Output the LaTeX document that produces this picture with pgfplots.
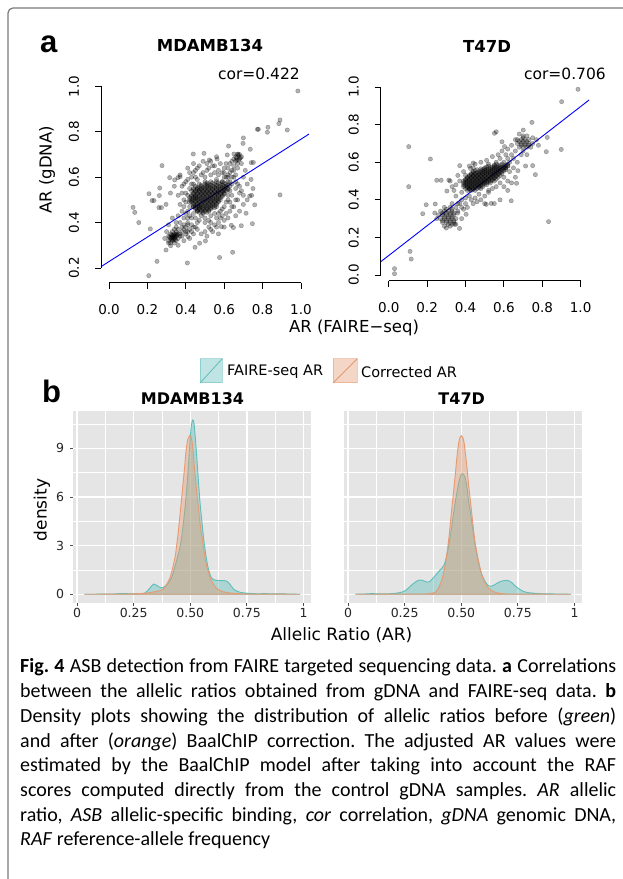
\documentclass[border=0pt]{standalone}
\usepackage{fontspec}
\setmainfont{DejaVu Sans}
\newfontfamily\capfont{Carlito}
\newfontfamily\panfont{Liberation Sans}
\usepackage{pgfplots}
\pgfplotsset{compat=1.18}

\definecolor{tealc}{HTML}{5FBDBA}
\definecolor{orngc}{HTML}{E59A72}
\definecolor{panelbg}{HTML}{E5E5E5}
\definecolor{framegray}{HTML}{7A7A7A}

\pgfplotsset{
  rsc/.style={scale only axis, width=208pt, xmin=-0.042, xmax=1.042, clip=false,
    axis line style={draw=none}, tick align=outside, xtick pos=bottom, ytick pos=left,
    major tick length=6pt, tick style={black, line width=0.8pt},
    xtick={0,0.2,0.4,0.6,0.8,1.0},
    xticklabel style={font=\fontsize{13.5}{14}\selectfont, anchor=center, yshift=-21pt},
    yticklabel style={font=\fontsize{13.5}{14}\selectfont, xshift=-21pt, rotate=90, anchor=center},
    /pgf/number format/.cd, fixed, fixed zerofill, precision=1, assume math mode=true},
  pts/.style={only marks, mark=*, mark size=2.2pt,
    mark options={draw=black, fill=black, opacity=0.3, line width=0.4pt}},
  dens/.style={scale only axis, width=237.5pt, height=192pt, xmin=-0.018, xmax=1.031,
    ymin=-0.54, ymax=11.31, axis background/.style={fill=panelbg},
    axis line style={draw=none}, grid=both,
    major grid style={white, line width=1.4pt}, minor grid style={white, line width=0.6pt},
    xtick={0,0.25,0.5,0.75,1}, xticklabels={0,0.25,0.50,0.75,1},
    minor xtick={0.125,0.375,0.625,0.875}, ytick={0,3,6,9}, minor ytick={1.5,4.5,7.5,10.5},
    tick align=outside, major tick length=3pt, minor tick length=0pt,
    tick style={color=black!70, line width=0.8pt}, xtick pos=bottom, ytick pos=left,
    xticklabel style={font=\fontsize{12.5}{13}\selectfont, color=black!85, anchor=center, yshift=-7pt},
    yticklabel style={font=\fontsize{12.5}{13}\selectfont, color=black!85, anchor=center, xshift=-10pt},
    /pgf/number format/assume math mode=true},
  tealfill/.style={draw=tealc, line width=0.9pt, fill=tealc, fill opacity=0.42, smooth, tension=0.4},
  orngfill/.style={draw=orngc, line width=0.9pt, fill=orngc, fill opacity=0.42, smooth, tension=0.4}
}

\begin{document}
\begin{tikzpicture}
\useasboundingbox (0pt,0pt) rectangle (623pt,879pt);
\fill[white] (0pt,0pt) rectangle (623pt,879pt);
\draw[framegray, line width=1.2pt] (8pt,0pt) -- (8pt,866pt) arc[start angle=180, end angle=90, radius=5pt] -- (623pt,871pt);

% ---------- panel a ----------
\node[anchor=base west, inner sep=0pt, font=\panfont\bfseries\fontsize{31}{31}\selectfont] at (40pt,826pt) {a};
\node[font=\bfseries\fontsize{16.5}{17}\selectfont] at (210pt,833pt) {MDAMB134};
\node[font=\bfseries\fontsize{16.5}{17}\selectfont] at (487pt,833pt) {T47D};
\node[anchor=east, inner sep=0pt, font=\fontsize{15.5}{16}\selectfont] at (300pt,805pt) {cor=0.422};
\node[anchor=east, inner sep=0pt, font=\fontsize{15.5}{16}\selectfont] at (606pt,805pt) {cor=0.706};
\node[rotate=90, font=\fontsize{16.5}{17}\selectfont] at (47pt,709pt) {AR (gDNA)};
\node[font=\fontsize{16.5}{17}\selectfont] at (354pt,551pt) {AR (FAIRE−seq)};

\begin{axis}[rsc, at={(101pt,596.3pt)}, anchor=south west, height=199pt,
  ymin=0.135, ymax=1.012, ytick={0.2,0.4,0.6,0.8,1.0}]
\addplot[pts] coordinates {
(0.984,0.980)(0.891,0.852)(0.885,0.836)(0.929,0.808)(0.828,0.820)(0.825,0.798)(0.773,0.811)(0.778,0.811)
(0.700,0.773)(0.698,0.749)(0.623,0.737)(0.736,0.723)(0.672,0.702)(0.651,0.702)(0.616,0.698)(0.439,0.702)
(0.495,0.705)(0.563,0.680)(0.523,0.676)(0.276,0.651)(0.741,0.664)(0.752,0.665)(0.891,0.522)(0.316,0.598)
(0.342,0.588)(0.359,0.598)(0.370,0.602)(0.264,0.552)(0.208,0.527)(0.224,0.497)(0.234,0.497)(0.262,0.519)
(0.297,0.480)(0.273,0.466)(0.260,0.466)(0.125,0.467)(0.134,0.445)(0.155,0.400)(0.215,0.372)(0.747,0.395)
(0.689,0.386)(0.714,0.441)(0.759,0.478)(0.733,0.517)(0.743,0.520)(0.637,0.388)(0.648,0.378)(0.585,0.382)
(0.576,0.246)(0.644,0.269)(0.408,0.222)(0.250,0.229)(0.207,0.166)(0.297,0.279)(0.321,0.298)(0.448,0.291)
(0.502,0.319)(0.472,0.309)(0.411,0.338)
(0.38,0.56)(0.40,0.58)(0.42,0.62)(0.45,0.63)(0.47,0.65)(0.52,0.64)(0.55,0.62)(0.58,0.66)(0.60,0.64)
(0.62,0.61)(0.65,0.60)(0.66,0.58)(0.68,0.56)(0.69,0.54)(0.70,0.52)(0.67,0.50)(0.65,0.47)(0.63,0.45)
(0.62,0.42)(0.60,0.41)(0.57,0.40)(0.55,0.39)(0.52,0.38)(0.50,0.40)(0.47,0.41)(0.45,0.38)(0.43,0.36)
(0.41,0.40)(0.39,0.42)(0.38,0.45)(0.36,0.43)(0.37,0.48)(0.36,0.52)(0.39,0.50)(0.40,0.53)(0.42,0.55)
(0.44,0.57)(0.46,0.59)(0.48,0.61)(0.50,0.60)(0.53,0.61)(0.56,0.59)(0.59,0.58)(0.61,0.56)(0.63,0.54)
(0.64,0.52)(0.62,0.50)(0.60,0.47)(0.58,0.45)(0.55,0.44)(0.53,0.43)(0.49,0.44)(0.46,0.45)(0.44,0.47)
(0.42,0.49)(0.41,0.45)(0.43,0.42)(0.45,0.42)(0.40,0.36)(0.38,0.38)(0.35,0.40)(0.33,0.42)(0.31,0.39)
(0.30,0.36)(0.29,0.33)(0.31,0.31)(0.36,0.30)(0.39,0.32)(0.37,0.35)(0.48,0.35)(0.51,0.34)(0.54,0.36)
(0.57,0.35)(0.60,0.38)(0.56,0.69)(0.53,0.67)(0.49,0.67)(0.44,0.66)(0.41,0.64)(0.37,0.61)(0.34,0.56)
(0.32,0.53)(0.70,0.60)(0.72,0.57)(0.71,0.63)(0.74,0.59)(0.75,0.55)(0.72,0.50)(0.68,0.45)(0.66,0.43)
(0.70,0.48)(0.47,0.55)(0.51,0.63)(0.57,0.63)(0.63,0.58)(0.66,0.55)(0.60,0.54)(0.45,0.51)(0.47,0.47)
(0.59,0.43)(0.52,0.41)
(0.39,0.57)(0.41,0.59)(0.43,0.60)(0.44,0.62)(0.46,0.64)(0.49,0.62)(0.51,0.66)(0.54,0.65)(0.57,0.61)
(0.59,0.62)(0.61,0.60)(0.64,0.60)(0.66,0.61)(0.67,0.57)(0.68,0.53)(0.66,0.50)(0.64,0.47)(0.61,0.44)
(0.58,0.42)(0.56,0.42)(0.53,0.40)(0.50,0.42)(0.48,0.43)(0.46,0.40)(0.44,0.44)(0.42,0.43)(0.40,0.44)
(0.39,0.47)(0.40,0.49)(0.41,0.52)(0.38,0.53)(0.43,0.57)(0.45,0.60)(0.55,0.65)(0.60,0.60)(0.63,0.62)
(0.65,0.63)(0.62,0.52)(0.61,0.49)(0.63,0.49)(0.59,0.46)(0.57,0.44)(0.42,0.47)(0.41,0.42)(0.37,0.40)
(0.35,0.38)(0.38,0.34)(0.42,0.33)(0.44,0.35)(0.46,0.37)(0.50,0.36)(0.53,0.37)(0.56,0.38)
(0.66,0.69)(0.67,0.70)(0.68,0.68)(0.66,0.67)(0.67,0.66)(0.65,0.68)(0.68,0.70)(0.69,0.69)(0.64,0.67)
(0.63,0.66)(0.65,0.65)(0.62,0.64)(0.61,0.66)(0.64,0.63)(0.60,0.62)(0.62,0.60)(0.67,0.64)(0.69,0.66)
(0.665,0.685)(0.675,0.695)(0.675,0.675)(0.685,0.685)(0.665,0.675)
(0.32,0.33)(0.33,0.32)(0.34,0.33)(0.35,0.34)(0.33,0.34)(0.34,0.35)(0.32,0.35)(0.35,0.32)(0.36,0.33)
(0.33,0.36)(0.34,0.31)(0.31,0.34)(0.35,0.36)(0.36,0.35)(0.32,0.31)(0.34,0.34)(0.33,0.33)(0.35,0.35)
(0.31,0.32)(0.36,0.37)(0.34,0.37)(0.37,0.34)
(0.325,0.325)(0.335,0.325)(0.345,0.335)(0.325,0.345)(0.335,0.345)(0.345,0.345)(0.335,0.335)
(0.325,0.335)(0.345,0.325)(0.355,0.345)(0.315,0.335)
(0.39,0.37)(0.40,0.38)(0.41,0.36)(0.42,0.37)(0.40,0.35)(0.43,0.39)(0.39,0.39)(0.41,0.39)(0.44,0.38)(0.38,0.36)
(0.50,0.58)(0.53,0.58)(0.56,0.58)(0.59,0.58)(0.62,0.58)
(0.47,0.57)(0.50,0.57)(0.52,0.57)(0.55,0.57)(0.58,0.57)(0.61,0.57)(0.64,0.57)
(0.45,0.56)(0.48,0.56)(0.50,0.56)(0.52,0.56)(0.54,0.56)(0.56,0.56)(0.58,0.56)(0.60,0.56)(0.63,0.56)
(0.44,0.55)(0.46,0.55)(0.48,0.55)(0.50,0.55)(0.52,0.55)(0.54,0.55)(0.56,0.55)(0.58,0.55)(0.60,0.55)(0.62,0.55)
(0.43,0.54)(0.45,0.54)(0.47,0.54)(0.49,0.54)(0.51,0.54)(0.53,0.54)(0.55,0.54)(0.57,0.54)(0.59,0.54)(0.61,0.54)
(0.44,0.53)(0.46,0.53)(0.48,0.53)(0.50,0.53)(0.52,0.53)(0.54,0.53)(0.56,0.53)(0.58,0.53)(0.60,0.53)
(0.43,0.52)(0.45,0.52)(0.47,0.52)(0.49,0.52)(0.51,0.52)(0.53,0.52)(0.55,0.52)(0.57,0.52)(0.59,0.52)
(0.42,0.51)(0.44,0.51)(0.46,0.51)(0.48,0.51)(0.50,0.51)(0.52,0.51)(0.54,0.51)(0.56,0.51)(0.58,0.51)
(0.42,0.50)(0.44,0.50)(0.46,0.50)(0.48,0.50)(0.50,0.50)(0.52,0.50)(0.54,0.50)(0.56,0.50)(0.58,0.50)
(0.43,0.49)(0.45,0.49)(0.47,0.49)(0.49,0.49)(0.51,0.49)(0.53,0.49)(0.55,0.49)(0.57,0.49)
(0.44,0.48)(0.46,0.48)(0.48,0.48)(0.50,0.48)(0.52,0.48)(0.54,0.48)(0.56,0.48)
(0.44,0.47)(0.46,0.47)(0.48,0.47)(0.50,0.47)(0.52,0.47)(0.54,0.47)(0.56,0.47)
(0.45,0.46)(0.47,0.46)(0.49,0.46)(0.51,0.46)(0.53,0.46)
(0.46,0.45)(0.48,0.45)(0.50,0.45)(0.52,0.45)
(0.51,0.575)(0.54,0.575)(0.57,0.575)(0.60,0.575)
(0.48,0.565)(0.51,0.565)(0.53,0.565)(0.56,0.565)(0.59,0.565)(0.62,0.565)
(0.46,0.555)(0.49,0.555)(0.51,0.555)(0.53,0.555)(0.55,0.555)(0.57,0.555)(0.59,0.555)(0.61,0.555)
(0.44,0.545)(0.46,0.545)(0.48,0.545)(0.50,0.545)(0.52,0.545)(0.54,0.545)(0.56,0.545)(0.58,0.545)(0.60,0.545)(0.62,0.545)
(0.45,0.535)(0.47,0.535)(0.49,0.535)(0.51,0.535)(0.53,0.535)(0.55,0.535)(0.57,0.535)(0.59,0.535)
(0.44,0.525)(0.46,0.525)(0.48,0.525)(0.50,0.525)(0.52,0.525)(0.54,0.525)(0.56,0.525)(0.58,0.525)(0.60,0.525)
(0.43,0.515)(0.45,0.515)(0.47,0.515)(0.49,0.515)(0.51,0.515)(0.53,0.515)(0.55,0.515)(0.57,0.515)(0.59,0.515)
(0.43,0.505)(0.45,0.505)(0.47,0.505)(0.49,0.505)(0.51,0.505)(0.53,0.505)(0.55,0.505)(0.57,0.505)
(0.43,0.495)(0.45,0.495)(0.47,0.495)(0.49,0.495)(0.51,0.495)(0.53,0.495)(0.55,0.495)(0.57,0.495)
(0.44,0.485)(0.46,0.485)(0.48,0.485)(0.50,0.485)(0.52,0.485)(0.54,0.485)(0.56,0.485)
(0.45,0.475)(0.47,0.475)(0.49,0.475)(0.51,0.475)(0.53,0.475)(0.55,0.475)
(0.45,0.465)(0.47,0.465)(0.49,0.465)(0.51,0.465)(0.53,0.465)(0.55,0.465)
(0.46,0.455)(0.48,0.455)(0.50,0.455)(0.52,0.455)(0.47,0.445)(0.49,0.445)(0.51,0.445)
};
\addplot[blue, line width=0.9pt] coordinates {(-0.042,0.2057) (1.042,0.790)};
\draw[line width=0.8pt] (axis cs:0,0.135) -- (axis cs:1,0.135);
\draw[line width=0.8pt] (axis cs:-0.042,0.2) -- (axis cs:-0.042,1);
\end{axis}

\begin{axis}[rsc, at={(380.7pt,598.3pt)}, anchor=south west, height=198pt,
  ymin=-0.03, ymax=1.023, ytick={0,0.2,0.4,0.6,0.8,1.0}]
\addplot[pts] coordinates {
(0.986,0.988)(0.901,0.922)(0.899,0.668)(0.833,0.284)(0.104,0.683)(0.104,0.470)(0.217,0.617)(0.111,0.126)
(0.117,0.085)(0.030,0.034)(0.030,0.007)(0.177,0.326)(0.195,0.374)(0.242,0.378)(0.250,0.504)(0.273,0.504)
(0.313,0.505)(0.303,0.447)(0.370,0.582)(0.426,0.567)(0.440,0.596)(0.746,0.812)(0.701,0.771)(0.821,0.656)
(0.764,0.534)(0.750,0.582)(0.713,0.580)(0.826,0.732)(0.638,0.395)(0.560,0.762)(0.551,0.754)(0.590,0.709)
(0.603,0.683)(0.369,0.248)(0.534,0.381)(0.508,0.376)(0.403,0.323)(0.343,0.270)(0.621,0.580)(0.666,0.488)
(0.673,0.555)
(0.56,0.59)(0.59,0.59)(0.62,0.59)
(0.52,0.58)(0.55,0.58)(0.57,0.58)(0.60,0.58)(0.62,0.58)
(0.50,0.57)(0.53,0.57)(0.55,0.57)(0.57,0.57)(0.59,0.57)(0.61,0.57)
(0.46,0.56)(0.49,0.56)(0.51,0.56)(0.53,0.56)(0.55,0.56)(0.57,0.56)(0.59,0.56)(0.61,0.56)
(0.44,0.55)(0.47,0.55)(0.49,0.55)(0.51,0.55)(0.53,0.55)(0.55,0.55)(0.57,0.55)(0.59,0.55)
(0.43,0.54)(0.45,0.54)(0.47,0.54)(0.49,0.54)(0.51,0.54)(0.53,0.54)(0.55,0.54)(0.57,0.54)(0.59,0.54)
(0.42,0.53)(0.44,0.53)(0.46,0.53)(0.48,0.53)(0.50,0.53)(0.52,0.53)(0.54,0.53)(0.56,0.53)(0.58,0.53)
(0.41,0.52)(0.43,0.52)(0.45,0.52)(0.47,0.52)(0.49,0.52)(0.51,0.52)(0.53,0.52)(0.55,0.52)(0.57,0.52)
(0.40,0.51)(0.42,0.51)(0.44,0.51)(0.46,0.51)(0.48,0.51)(0.50,0.51)(0.52,0.51)(0.54,0.51)(0.56,0.51)
(0.39,0.50)(0.41,0.50)(0.43,0.50)(0.45,0.50)(0.47,0.50)(0.49,0.50)(0.51,0.50)(0.53,0.50)(0.55,0.50)
(0.39,0.49)(0.41,0.49)(0.43,0.49)(0.45,0.49)(0.47,0.49)(0.49,0.49)(0.51,0.49)(0.53,0.49)
(0.39,0.48)(0.41,0.48)(0.43,0.48)(0.45,0.48)(0.47,0.48)(0.49,0.48)(0.51,0.48)
(0.39,0.47)(0.41,0.47)(0.43,0.47)(0.45,0.47)(0.47,0.47)(0.49,0.47)
(0.40,0.46)(0.42,0.46)(0.44,0.46)(0.46,0.46)(0.48,0.46)
(0.41,0.45)(0.43,0.45)(0.45,0.45)
(0.55,0.585)(0.58,0.585)(0.61,0.585)
(0.51,0.575)(0.54,0.575)(0.56,0.575)(0.58,0.575)(0.60,0.575)
(0.48,0.565)(0.50,0.565)(0.52,0.565)(0.54,0.565)(0.56,0.565)(0.58,0.565)(0.60,0.565)
(0.45,0.555)(0.48,0.555)(0.50,0.555)(0.52,0.555)(0.54,0.555)(0.56,0.555)(0.58,0.555)(0.60,0.555)
(0.44,0.545)(0.46,0.545)(0.48,0.545)(0.50,0.545)(0.52,0.545)(0.54,0.545)(0.56,0.545)(0.58,0.545)
(0.43,0.535)(0.45,0.535)(0.47,0.535)(0.49,0.535)(0.51,0.535)(0.53,0.535)(0.55,0.535)(0.57,0.535)
(0.42,0.525)(0.44,0.525)(0.46,0.525)(0.48,0.525)(0.50,0.525)(0.52,0.525)(0.54,0.525)(0.56,0.525)
(0.41,0.515)(0.43,0.515)(0.45,0.515)(0.47,0.515)(0.49,0.515)(0.51,0.515)(0.53,0.515)(0.55,0.515)
(0.40,0.505)(0.42,0.505)(0.44,0.505)(0.46,0.505)(0.48,0.505)(0.50,0.505)(0.52,0.505)(0.54,0.505)
(0.40,0.495)(0.42,0.495)(0.44,0.495)(0.46,0.495)(0.48,0.495)(0.50,0.495)(0.52,0.495)
(0.40,0.485)(0.42,0.485)(0.44,0.485)(0.46,0.485)(0.48,0.485)(0.50,0.485)
(0.40,0.475)(0.42,0.475)(0.44,0.475)(0.46,0.475)(0.48,0.475)
(0.41,0.465)(0.43,0.465)(0.45,0.465)(0.47,0.465)(0.42,0.455)(0.44,0.455)
(0.33,0.38)(0.36,0.38)(0.29,0.36)(0.32,0.36)(0.35,0.36)(0.38,0.36)
(0.27,0.34)(0.29,0.34)(0.31,0.34)(0.33,0.34)(0.36,0.34)
(0.26,0.32)(0.28,0.32)(0.30,0.32)(0.32,0.32)(0.34,0.32)
(0.27,0.30)(0.29,0.30)(0.31,0.30)(0.33,0.30)(0.35,0.30)
(0.28,0.28)(0.30,0.28)(0.32,0.28)(0.34,0.28)(0.29,0.26)(0.32,0.26)
(0.28,0.33)(0.30,0.33)(0.32,0.33)(0.34,0.33)(0.29,0.31)(0.31,0.31)(0.33,0.31)(0.28,0.29)(0.30,0.29)
(0.32,0.29)(0.34,0.29)(0.30,0.35)(0.33,0.35)(0.31,0.27)(0.33,0.27)
(0.38,0.40)(0.40,0.41)(0.42,0.42)(0.37,0.38)(0.40,0.38)(0.43,0.40)(0.45,0.41)(0.47,0.43)(0.50,0.42)
(0.52,0.44)(0.48,0.40)(0.36,0.33)(0.39,0.35)(0.41,0.36)(0.44,0.38)(0.30,0.25)(0.35,0.27)(0.38,0.30)
(0.24,0.33)(0.25,0.30)
(0.70,0.74)(0.72,0.74)(0.67,0.72)(0.69,0.72)(0.71,0.72)(0.73,0.72)
(0.67,0.70)(0.69,0.70)(0.71,0.70)(0.73,0.70)(0.75,0.70)(0.68,0.68)(0.70,0.68)(0.72,0.68)(0.74,0.68)(0.70,0.66)
(0.68,0.71)(0.70,0.71)(0.72,0.71)(0.69,0.69)(0.71,0.69)(0.73,0.69)(0.70,0.73)
(0.62,0.62)(0.64,0.64)(0.60,0.60)(0.63,0.60)(0.65,0.62)(0.66,0.66)(0.61,0.64)(0.58,0.62)(0.56,0.60)
(0.59,0.66)(0.62,0.67)(0.64,0.69)(0.66,0.72)(0.68,0.75)(0.75,0.73)(0.77,0.72)(0.78,0.69)(0.69,0.64)
(0.72,0.64)(0.67,0.60)(0.65,0.57)(0.63,0.55)(0.60,0.52)(0.62,0.50)(0.58,0.49)(0.56,0.47)(0.54,0.46)
(0.52,0.45)(0.35,0.48)(0.34,0.45)(0.37,0.50)(0.36,0.53)(0.39,0.55)(0.42,0.58)(0.45,0.59)(0.48,0.60)
(0.51,0.61)(0.54,0.63)
(0.33,0.47)(0.32,0.50)(0.35,0.42)(0.38,0.44)(0.60,0.47)(0.62,0.45)(0.64,0.49)(0.66,0.52)(0.58,0.40)
(0.55,0.38)(0.50,0.38)(0.46,0.39)(0.44,0.57)(0.40,0.53)(0.42,0.46)(0.57,0.64)(0.52,0.59)(0.61,0.57)
};
\addplot[blue, line width=0.9pt] coordinates {(-0.042,0.0707) (1.044,0.931)};
\draw[line width=0.8pt] (axis cs:0,-0.03) -- (axis cs:1,-0.03);
\draw[line width=0.8pt] (axis cs:-0.042,0) -- (axis cs:-0.042,1);
\end{axis}

% ---------- panel b ----------
\node[anchor=base west, inner sep=0pt, font=\panfont\bfseries\fontsize{31}{31}\selectfont] at (42pt,476pt) {b};
\filldraw[fill=tealc, fill opacity=0.4, draw=tealc, draw opacity=0.5, line width=1pt] (200pt,496pt) rectangle (222pt,520pt);
\draw[tealc, line width=0.8pt] (200pt,496pt) -- (222pt,520pt);
\node[anchor=west, inner sep=0pt, font=\fontsize{14.5}{15}\selectfont] at (227pt,507pt) {FAIRE-seq AR};
\filldraw[fill=orngc, fill opacity=0.4, draw=orngc, draw opacity=0.5, line width=1pt] (333pt,496pt) rectangle (357pt,520pt);
\draw[orngc, line width=0.8pt] (333pt,496pt) -- (357pt,520pt);
\node[anchor=west, inner sep=0pt, font=\fontsize{14.5}{15}\selectfont] at (361pt,507pt) {Corrected AR};
\node[font=\bfseries\fontsize{16}{17}\selectfont] at (192.5pt,480pt) {MDAMB134};
\node[font=\bfseries\fontsize{16}{17}\selectfont] at (461.7pt,480pt) {T47D};
\node[rotate=90, font=\fontsize{17}{18}\selectfont] at (42pt,369pt) {density};
\node[font=\fontsize{17}{18}\selectfont] at (341.5pt,244pt) {Allelic Ratio (AR)};

\begin{axis}[dens, at={(73pt,276pt)}, anchor=south west]
\addplot[tealfill] coordinates {
(0.032,0)(0.15,0.01)(0.20,0.05)(0.23,0.03)(0.28,0.03)(0.30,0.08)(0.32,0.35)(0.338,0.63)(0.355,0.52)
(0.37,0.40)(0.385,0.45)(0.40,0.62)(0.415,0.95)(0.426,1.4)(0.44,2.1)(0.456,3.0)(0.468,4.2)(0.478,5.5)
(0.487,7.0)(0.495,8.6)(0.503,10.2)(0.510,10.75)(0.516,10.6)(0.522,9.7)(0.530,8.2)(0.537,6.8)(0.544,5.5)
(0.552,4.4)(0.559,3.45)(0.567,2.6)(0.575,1.9)(0.583,1.4)(0.592,1.05)(0.603,0.9)(0.618,0.86)(0.635,0.84)
(0.650,0.85)(0.662,0.80)(0.675,0.62)(0.69,0.33)(0.705,0.2)(0.72,0.12)(0.745,0.07)(0.765,0.05)(0.80,0.03)
(0.83,0.04)(0.87,0.02)(0.90,0.03)(0.94,0.01)(0.985,0)} \closedcycle;
\addplot[orngfill] coordinates {
(0.032,0)(0.20,0.01)(0.28,0.04)(0.32,0.1)(0.353,0.18)(0.38,0.3)(0.395,0.6)(0.41,1.0)(0.422,1.6)
(0.434,2.4)(0.445,3.6)(0.456,5.1)(0.465,6.4)(0.474,7.7)(0.481,8.8)(0.488,9.5)(0.497,9.8)(0.504,9.7)
(0.510,9.2)(0.518,7.9)(0.524,7.0)(0.530,6.1)(0.537,5.2)(0.544,4.3)(0.552,3.5)(0.559,2.8)(0.568,2.0)
(0.58,1.4)(0.59,0.95)(0.603,0.6)(0.618,0.35)(0.632,0.22)(0.655,0.12)(0.676,0.08)(0.70,0.05)(0.735,0.02)
(0.80,0.01)(0.985,0)} \closedcycle;
\end{axis}

\begin{axis}[dens, at={(344pt,276pt)}, anchor=south west, yticklabels={}, ytick style={draw=none}]
\addplot[tealfill] coordinates {
(0.032,0)(0.08,0.02)(0.106,0.04)(0.14,0.02)(0.18,0.03)(0.21,0.06)(0.24,0.14)(0.255,0.25)(0.268,0.4)
(0.283,0.6)(0.297,0.75)(0.31,0.86)(0.319,0.88)(0.33,0.85)(0.349,0.75)(0.36,0.78)(0.37,0.92)(0.385,1.15)
(0.40,1.4)(0.412,1.58)(0.422,1.75)(0.433,2.2)(0.444,2.96)(0.455,3.9)(0.466,5.0)(0.477,6.0)(0.488,6.84)
(0.497,7.3)(0.506,7.45)(0.512,7.35)(0.518,7.14)(0.525,6.6)(0.532,5.8)(0.54,5.1)(0.547,4.4)(0.555,3.6)
(0.562,2.96)(0.571,2.3)(0.58,1.73)(0.59,1.25)(0.60,0.92)(0.61,0.68)(0.62,0.53)(0.635,0.5)(0.65,0.61)
(0.665,0.74)(0.68,0.82)(0.70,0.86)(0.712,0.82)(0.724,0.71)(0.738,0.52)(0.753,0.35)(0.768,0.22)(0.782,0.14)
(0.80,0.09)(0.826,0.06)(0.856,0.03)(0.90,0.02)(0.985,0)} \closedcycle;
\addplot[orngfill] coordinates {
(0.032,0)(0.30,0.01)(0.356,0.03)(0.385,0.12)(0.40,0.4)(0.415,0.92)(0.426,1.6)(0.437,2.55)(0.447,3.7)
(0.456,5.0)(0.465,6.2)(0.474,7.45)(0.481,8.5)(0.488,9.3)(0.494,9.65)(0.50,9.78)(0.506,9.7)(0.512,9.4)
(0.518,8.7)(0.525,7.86)(0.532,6.8)(0.54,5.8)(0.547,4.9)(0.554,4.0)(0.561,3.2)(0.569,2.55)(0.58,1.8)
(0.59,1.22)(0.60,0.85)(0.613,0.51)(0.628,0.28)(0.643,0.16)(0.66,0.08)(0.68,0.04)(0.72,0.01)(0.985,0)} \closedcycle;
\end{axis}

% ---------- caption ----------
\node[anchor=base west, inner sep=0pt, text width=596pt, align=justify,
  font=\capfont\fontsize{20}{24.7}\selectfont\frenchspacing] at (20pt,206pt) {%
\textbf{Fig. 4} ASB detection from FAIRE targeted sequencing data. \textbf{a} Correlations\linebreak
between the allelic ratios obtained from gDNA and FAIRE-seq data. \textbf{b}\linebreak
Density plots showing the distribution of allelic ratios before (\textit{green})\linebreak
and after (\textit{orange}) BaalChIP correction. The adjusted AR values were\linebreak
estimated by the BaalChIP model after taking into account the RAF\linebreak
scores computed directly from the control gDNA samples. \textit{AR} allelic\linebreak
ratio, \textit{ASB} allelic-specific binding, \textit{cor} correlation, \textit{gDNA} genomic DNA,\linebreak
\textit{RAF} reference-allele frequency};
\end{tikzpicture}
\end{document}
